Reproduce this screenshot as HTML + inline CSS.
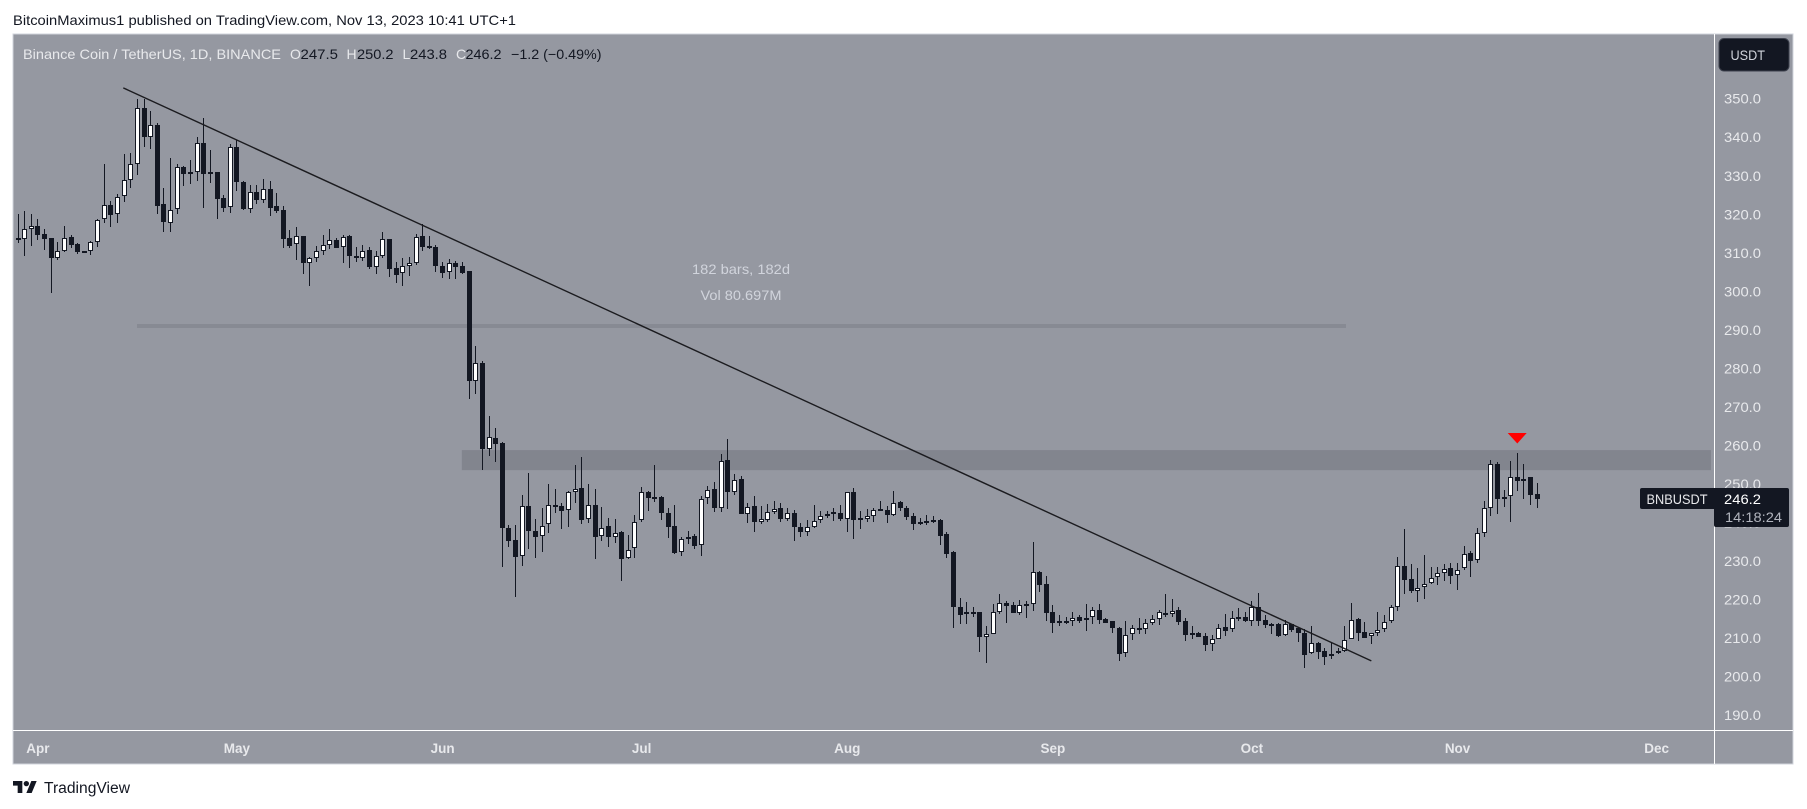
<!DOCTYPE html>
<html lang="en">
<head>
<meta charset="utf-8">
<title>BNB/USDT daily chart</title>
<style>
html,body{margin:0;padding:0;background:#fff;width:1807px;height:809px;overflow:hidden}
svg{display:block;font-family:"Liberation Sans",sans-serif}
text{white-space:pre}
</style>
</head>
<body>
<svg id="chart" xmlns="http://www.w3.org/2000/svg" width="1807" height="809" viewBox="0 0 1807 809">
  <rect x="0" y="0" width="1807" height="809" fill="#ffffff"/>
  <text x="13" y="25" font-size="14" fill="#131722" textLength="503" lengthAdjust="spacingAndGlyphs">BitcoinMaximus1 published on TradingView.com, Nov 13, 2023 10:41 UTC+1</text>
  <rect x="13" y="34" width="1780" height="730" fill="#9598a1" stroke="#d1d4dc" stroke-width="1"/>
  <g id="underlays"></g>
  <rect x="137" y="324" width="1209" height="4" fill="#878a93"/>
  <text x="741" y="274" font-size="14" fill="#d1d4dc" text-anchor="middle" textLength="98" lengthAdjust="spacingAndGlyphs">182 bars, 182d</text>
  <text x="741" y="300" font-size="14" fill="#d1d4dc" text-anchor="middle" textLength="81" lengthAdjust="spacingAndGlyphs">Vol 80.697M</text>
  <g id="candles" shape-rendering="crispEdges"></g>
  <g id="overlays"></g>
  <polygon points="1507.7,433 1526.7,433 1517.3,443.5" fill="#ff0000"/>

  <g font-size="14">
    <text x="23" y="59" fill="#e8e9ec" textLength="258" lengthAdjust="spacingAndGlyphs">Binance Coin / TetherUS, 1D, BINANCE</text>
    <text x="290" y="59" fill="#e8e9ec">O</text>
    <text x="300.5" y="59" fill="#131722" textLength="37.5" lengthAdjust="spacingAndGlyphs">247.5</text>
    <text x="346.5" y="59" fill="#e8e9ec">H</text>
    <text x="357" y="59" fill="#131722" textLength="36.5" lengthAdjust="spacingAndGlyphs">250.2</text>
    <text x="402.5" y="59" fill="#e8e9ec">L</text>
    <text x="410" y="59" fill="#131722" textLength="37" lengthAdjust="spacingAndGlyphs">243.8</text>
    <text x="456" y="59" fill="#e8e9ec">C</text>
    <text x="465.5" y="59" fill="#131722" textLength="36" lengthAdjust="spacingAndGlyphs">246.2</text>
    <text x="511" y="59" fill="#131722" textLength="90.5" lengthAdjust="spacingAndGlyphs">−1.2 (−0.49%)</text>
  </g>

  <rect x="13" y="730" width="1780" height="1" fill="#ffffff"/>
  <rect x="1714" y="34" width="1" height="730" fill="#ffffff"/>
  <g id="price-axis"></g>
  <g id="time-axis"></g>

  <rect x="1719" y="38.5" width="70" height="32.5" rx="5" fill="#131722" stroke="#3d414d" stroke-width="1"/>
  <text x="1730.5" y="60" font-size="14" fill="#d1d4dc" textLength="34.5" lengthAdjust="spacingAndGlyphs">USDT</text>

  <g>
    <rect x="1640" y="488" width="80" height="21" rx="2" fill="#131722"/>
    <rect x="1714" y="488" width="75" height="39" rx="2" fill="#131722"/>
    <text x="1646.5" y="504" font-size="14" fill="#e8e9ec" textLength="61" lengthAdjust="spacingAndGlyphs">BNBUSDT</text>
    <text x="1724" y="504" font-size="14" fill="#ffffff" textLength="37" lengthAdjust="spacingAndGlyphs">246.2</text>
    <text x="1725" y="522" font-size="14" fill="#b2b5be" textLength="57" lengthAdjust="spacingAndGlyphs">14:18:24</text>
  </g>

  <g transform="translate(13 778.3) scale(0.667)" fill="#131722">
    <path d="M14 22H7V11H0V4h14v18zM28 22h-8l7.5-18h8L28 22z"/>
    <circle cx="20" cy="8" r="4"/>
  </g>
  <text x="44" y="793" font-size="15.5" fill="#131722" textLength="86" lengthAdjust="spacingAndGlyphs">TradingView</text>
</svg>

<script>
// Daily bars, oldest first (Mar 29 2023 is bar 0).
var opens = [
313.2,313.7,316.3,316.9,314.9,313.8,308.7,310.6,314.1,312.3,
310.5,310.6,312.7,318.7,322.4,320.0,324.7,328.8,333.0,347.7,
340.0,343.2,322.7,317.8,321.3,332.2,330.5,331.1,338.4,330.9,
330.9,324.2,321.8,337.5,328.4,321.3,325.9,323.8,326.5,322.1,
321.0,313.8,312.2,314.4,307.4,308.6,310.6,311.9,313.2,311.4,
314.4,309.3,308.7,310.7,306.4,309.1,313.6,306.0,304.7,306.7,
307.3,314.4,311.7,311.5,306.7,304.9,307.3,306.5,305.3,276.8,
281.4,259.2,262.0,260.6,238.7,235.4,231.2,244.2,237.9,236.4,
239.5,244.5,244.2,243.2,247.8,248.9,240.8,244.5,236.4,239.0,
236.2,237.5,230.7,233.3,240.6,247.8,246.6,246.5,242.6,239.0,
232.3,235.6,236.4,234.1,246.3,248.6,243.9,256.1,248.0,251.2,
242.3,244.2,240.2,240.7,242.8,243.9,241.0,242.4,238.9,237.6,
238.9,240.7,241.8,242.7,242.6,241.0,247.8,241.1,241.0,241.8,
243.4,243.2,242.0,245.3,243.9,241.6,239.7,240.3,240.6,240.7,
237.0,232.4,218.2,216.2,216.9,216.8,210.4,211.0,216.7,219.0,
218.5,216.4,218.4,218.8,227.1,224.0,216.7,213.8,214.4,214.4,
215.4,214.6,215.4,217.2,214.9,214.4,212.5,206.2,211.0,212.5,
212.3,214.0,214.9,216.4,216.2,217.2,214.4,211.2,211.2,210.5,
208.4,209.9,212.8,212.3,215.4,215.4,214.5,218.2,214.6,213.7,
213.6,210.7,213.6,212.5,211.3,206.1,208.7,206.7,205.3,206.1,
206.6,209.9,214.9,211.5,210.5,211.2,212.3,214.4,218.0,228.7,
225.4,222.1,223.2,224.2,225.8,227.0,228.1,226.3,228.1,232.0,
230.4,237.2,243.9,255.1,246.3,246.8,251.7,251.4,251.7,247.5];
var highs = [
320.1,320.9,320.2,318.9,316.1,313.8,312.7,317.0,314.6,312.6,
310.6,313.1,318.8,333.0,323.4,325.3,335.6,335.8,349.9,349.9,
346.8,343.7,326.9,334.6,333.0,332.5,334.1,340.0,345.0,336.7,
330.9,325.0,338.2,339.3,328.6,327.6,327.6,329.1,328.6,325.5,
322.1,315.9,316.8,314.4,309.0,311.8,314.6,316.3,313.8,314.6,
314.6,311.6,311.9,311.6,310.5,315.5,313.6,307.7,308.6,309.0,
314.8,317.5,314.4,311.9,307.7,308.3,308.0,307.5,305.4,285.8,
281.9,267.6,264.5,260.9,239.4,239.4,247.1,252.8,240.9,243.9,
250.0,248.7,245.0,248.2,254.9,257.0,250.0,248.7,244.0,241.3,
240.9,237.7,236.8,241.9,249.1,248.3,254.9,247.0,243.9,244.5,
236.2,237.7,237.0,247.0,249.6,250.4,257.8,261.7,252.6,252.2,
245.0,246.9,244.3,244.8,245.6,245.0,243.7,243.2,239.8,240.7,
244.5,243.0,243.0,243.9,244.5,247.9,248.9,243.0,243.4,243.7,
245.6,244.3,248.2,245.6,244.4,242.4,241.3,241.9,241.7,240.8,
237.5,232.5,220.4,219.4,218.1,216.9,213.2,218.8,221.5,219.6,
219.4,219.9,219.6,234.9,227.3,226.1,218.5,215.9,215.5,216.8,
216.0,218.9,218.1,218.8,215.3,214.4,212.8,214.4,213.4,215.2,
214.9,216.0,217.2,221.5,220.2,218.0,215.2,213.2,211.6,211.2,
210.8,213.6,216.2,217.1,217.8,216.8,219.6,221.7,216.0,213.8,
214.0,214.6,213.7,212.9,212.3,213.2,208.9,207.4,208.7,207.4,
213.2,219.1,215.2,214.2,211.4,216.7,216.0,218.5,231.0,238.2,
229.2,228.1,231.7,228.5,228.5,229.2,229.4,229.6,233.9,232.6,
238.7,245.6,256.2,255.6,248.4,256.0,258.0,255.2,251.9,250.2];
var lows = [
312.6,309.2,311.8,313.3,310.7,299.7,308.1,310.3,311.2,309.7,
310.1,309.4,311.6,317.8,316.8,317.8,323.3,326.9,330.3,337.5,
336.9,320.2,315.5,315.5,320.2,327.3,327.9,328.6,321.7,328.2,
318.9,320.7,320.4,326.1,321.2,320.4,322.7,323.0,319.6,320.4,
311.3,311.2,308.1,304.5,301.5,307.7,309.4,310.9,311.2,307.3,
306.1,307.7,307.9,305.9,304.5,308.6,303.8,302.2,301.5,304.0,
306.8,310.6,310.9,304.9,303.4,303.3,303.1,304.5,272.1,273.4,
253.6,257.3,255.7,228.5,233.7,220.8,228.8,233.1,230.8,232.3,
237.4,242.6,238.3,238.8,245.1,239.6,240.0,230.5,235.2,233.6,
234.7,224.8,230.5,230.8,240.1,243.0,245.4,240.7,236.0,231.8,
231.3,234.4,233.1,231.3,244.8,242.8,242.7,243.5,247.1,242.3,
239.9,237.5,239.5,240.2,242.2,240.1,240.5,235.2,236.2,236.5,
238.5,240.0,241.1,240.3,240.5,237.5,235.7,238.3,240.2,240.1,
243.1,239.9,241.7,243.0,240.7,238.1,239.4,239.3,239.8,234.2,
230.9,212.7,213.6,213.6,215.5,206.4,203.6,211.0,216.2,213.9,
216.4,216.0,215.2,217.0,222.0,214.4,211.3,213.1,213.6,213.1,
213.8,211.9,213.6,213.6,213.9,211.3,204.1,205.2,209.5,211.1,
211.1,213.4,213.4,215.4,215.5,213.5,209.3,209.9,210.2,206.7,
206.7,209.9,210.6,211.7,214.4,214.2,213.1,213.1,212.7,211.1,
210.4,210.5,211.6,209.1,202.3,205.8,204.6,203.0,204.6,205.9,
206.4,209.9,209.3,210.1,208.5,210.6,211.7,213.8,217.0,221.5,
221.8,219.4,220.1,224.1,223.8,224.9,224.1,222.5,227.8,225.9,
229.6,236.3,241.7,242.3,244.0,240.2,248.2,246.1,244.5,243.8];
var closes = [
313.8,316.3,316.9,314.6,313.7,308.7,310.6,313.8,312.0,310.2,
310.3,312.7,318.5,322.3,319.9,324.6,328.8,333.0,347.7,340.0,
343.1,322.2,318.1,321.2,332.2,330.5,331.1,338.4,330.5,330.5,
324.0,321.7,337.4,328.5,321.4,325.9,323.7,326.5,321.7,320.9,
313.7,311.8,314.3,307.4,308.6,310.6,311.9,313.2,311.3,314.2,
309.3,308.7,310.6,306.4,309.1,313.5,305.9,304.2,306.7,307.3,
314.0,311.6,311.2,306.7,304.8,307.3,306.4,304.8,276.8,281.3,
259.1,262.1,260.4,238.7,235.3,231.1,244.2,237.9,236.3,239.2,
244.5,244.1,243.1,247.8,248.8,240.7,244.5,236.3,238.7,236.2,
237.4,230.6,232.9,240.2,247.8,246.4,246.4,242.6,238.9,232.2,
235.6,236.3,234.0,246.2,248.5,243.9,256.0,248.0,251.1,242.3,
244.1,240.2,240.8,242.8,243.6,241.0,242.6,238.9,237.6,238.9,
240.5,241.8,242.3,242.6,240.9,247.8,240.7,240.7,241.8,243.2,
243.1,242.0,245.1,243.9,241.5,239.7,240.2,240.1,240.1,236.6,
231.9,218.2,216.1,216.9,216.6,210.4,211.0,216.7,219.0,218.4,
216.5,218.5,218.8,227.1,223.9,216.6,213.8,214.4,214.2,215.3,
214.4,215.3,217.2,214.8,214.0,212.5,206.0,210.7,212.5,212.2,
214.0,214.9,216.7,216.1,217.1,214.3,210.9,210.9,210.3,208.2,
209.9,212.7,211.9,215.1,215.0,214.4,218.2,214.4,213.5,213.5,
210.6,213.6,212.2,211.4,205.7,208.7,206.5,205.2,206.0,206.6,
209.6,214.6,211.4,210.1,211.2,212.2,214.3,218.0,228.6,225.2,
222.1,223.1,224.1,225.7,227.0,228.0,226.2,227.8,231.9,230.1,
237.2,243.9,255.1,246.2,246.7,251.7,250.9,251.2,247.2,246.2];
var priceTicks = [350,340,330,320,310,300,290,280,270,260,250,240,230,220,210,200,190];
var monthLabels = ["Apr","May","Jun","Jul","Aug","Sep","Oct","Nov","Dec"];
var monthBars = [3,33,64,94,125,156,186,217,247];
var trendBars = [15.87,204];
var trendPrices = [352.8,204.1];
var zonePrices = [258.8,253.6];
var zoneBars = [66.9,255.2];

function xScale(i){return 18+6.634*i;}
function yScale(p){return 98.7+(350-p)*3.853;}

var NS='http://www.w3.org/2000/svg';
function make(tag,attrs,parent){
  var n=document.createElementNS(NS,tag);
  for(var k in attrs){n.setAttribute(k,attrs[k]);}
  parent.appendChild(n);
  return n;
}

var under=document.getElementById('underlays');
var zone=make('rect',{x:xScale(zoneBars[0]),y:yScale(zonePrices[0]),width:xScale(zoneBars[1])-xScale(zoneBars[0]),height:yScale(zonePrices[1])-yScale(zonePrices[0]),fill:'#82858e'},under);



var candleGroup=document.getElementById('candles');
var DARK='#131722';
function drawCandle(i){
  var cx=Math.floor(xScale(i));
  var yOpen=yScale(opens[i]),yClose=yScale(closes[i]);
  var bodyTop=Math.round(Math.min(yOpen,yClose));
  var bodyBottom=Math.round(Math.max(yOpen,yClose));
  if(bodyBottom-bodyTop<2){bodyBottom=bodyTop+2;}
  var up=closes[i]>=opens[i];
  var g=make('g',{},candleGroup);
  
  
  var yHigh=Math.round(yScale(highs[i])),yLow=Math.round(yScale(lows[i]));
  var wick=make('rect',{x:cx,y:yHigh,width:1,height:Math.max(1,yLow-yHigh),fill:DARK},g);
  
  
  var body=make('rect',{x:cx-2,y:bodyTop,width:5,height:bodyBottom-bodyTop,fill:DARK},g);
  
  
  if(up&&bodyBottom-bodyTop>2){
    var inner=make('rect',{x:cx-1,y:bodyTop+1,width:3,height:bodyBottom-bodyTop-2,fill:'#ffffff'},g);
    
    
  }
}
for(var bar=0;bar<opens.length;bar++){drawCandle(bar);}

var over=document.getElementById('overlays');
var trend=make('line',{x1:xScale(trendBars[0]),y1:yScale(trendPrices[0]),x2:xScale(trendBars[1]),y2:yScale(trendPrices[1]),stroke:'#1b1b1f','stroke-width':1.4},over);



var priceAxis=document.getElementById('price-axis');
priceTicks.forEach(function(p){
  var t=make('text',{x:1724,y:yScale(p)+5,'font-size':14,fill:'#e8e9ec',textLength:37,lengthAdjust:'spacingAndGlyphs'},priceAxis);
  
  
  t.textContent=p.toFixed(1);
});

var timeAxis=document.getElementById('time-axis');
monthLabels.forEach(function(m,idx){
  var t=make('text',{x:xScale(monthBars[idx]),y:753,'font-size':13.5,'font-weight':'bold',fill:'#e8e9ec','text-anchor':'middle'},timeAxis);
  
  
  t.textContent=m;
});
</script>
</body>
</html>
